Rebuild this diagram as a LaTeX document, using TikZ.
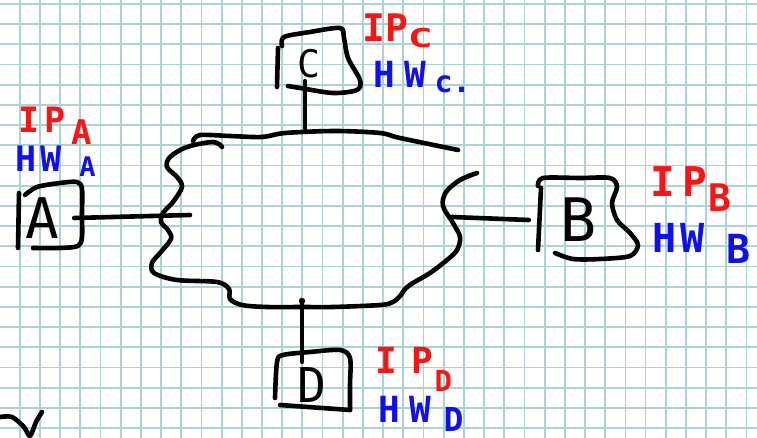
\documentclass[tikz,border=0pt]{standalone}
\usepackage{fontspec}
\usepackage{graphicx}
\usetikzlibrary{calc}
\newfontfamily\labfont{DejaVu Sans Mono}
\newfontfamily\devfont{DejaVu Sans Mono}
\definecolor{gridc}{RGB}{168,212,212}
\definecolor{inkred}{RGB}{250,20,20}
\definecolor{inkblue}{RGB}{15,15,245}
% lowered, resized subscript: {drop}{size}{text}
\newcommand\lsub[3]{\raisebox{-#1pt}{\fontsize{#2}{#2}\selectfont #3}}
\begin{document}
\begin{tikzpicture}[x=1pt,y=-1pt,
  gridline/.style={line width=1.8pt, draw=gridc},
  pen/.style={line width=4.6pt, line cap=round, line join=round, draw=black},
  devletter/.style={inner sep=0pt, font=\devfont\fontsize{#1}{#1}\selectfont},
  iplab/.style={text=inkred, inner sep=0pt, anchor=base west,
    font=\labfont\bfseries\fontsize{#1}{#1}\selectfont},
  hwlab/.style={text=inkblue, inner sep=0pt, anchor=base west,
    font=\labfont\bfseries\fontsize{#1}{#1}\selectfont}]
\useasboundingbox (0,0) rectangle (757,438);
\clip (0,0) rectangle (757,438);
\fill[white] (0,0) rectangle (757,438);

% squared paper
\foreach \k in {0,...,37} \draw[gridline] ({19.7+20.19*\k},0) -- ++(0,438);
\foreach \k in {0,...,21} \draw[gridline] (0,{4+20.19*\k}) -- ++(757,0);

% hosts
\node[devletter=56, minimum width=64pt, minimum height=67pt] (devA) at (42,218) {A};
\node[devletter=60, minimum width=100pt, minimum height=81pt] (devB) at (579,220) {B};
\node[devletter=38, minimum width=83pt, minimum height=66pt] (devC) at (309,64) {C};
\node[devletter=48, minimum width=75pt, minimum height=60pt] (devD) at (312,385) {D};

% host outlines
\draw[pen] (19,193) -- (18,248);
\draw[pen] plot[smooth,tension=0.5] coordinates {(25,195) (37,187) (60,183) (77,182) (82,189) (82,215) (82,237) (78,246) (60,248) (33,248)};
\draw[pen] (541,188) -- (538,250);
\draw[pen] plot[smooth,tension=0.5] coordinates {(538,186) (543,178) (580,178) (610,178) (617,187) (612,203) (617,220) (630,233) (638,245) (630,256) (600,259) (573,259) (555,253)};
\draw[pen] (278,48) -- (277,87);
\draw[pen] plot[smooth,tension=0.5] coordinates {(282,46) (284,37) (310,32) (340,28) (344,38) (348,58) (360,80) (357,90) (333,93) (300,88) (288,86)};
\draw[pen] plot[smooth,tension=0.5] coordinates {(275,398) (277,362) (283,355) (310,352) (340,350) (350,358) (350,385) (350,410)};
\draw[pen] (280,405) -- (350,410);

% the network cloud
\draw[pen] plot[smooth,tension=0.5] coordinates {(193,141) (200,135) (230,136) (262,137) (285,133) (335,131) (380,133) (400,138) (458,150)};
\draw[pen] plot[smooth,tension=0.55] coordinates {(222,147) (213,142) (187,147) (170,157) (167,167) (177,177) (182,187) (173,202) (163,213) (161,222) (168,230) (171,239) (160,253) (152,263) (154,273) (177,280) (217,282) (229,289) (230,299) (242,305) (267,307) (303,307) (333,307) (380,305) (393,302) (401,295) (405,289) (413,283) (430,273) (447,260) (457,250) (460,237) (453,223) (443,206) (446,192) (460,180) (477,173)};

% attachment points on the cloud
\coordinate (jA) at (190,215);
\coordinate (jB) at (452,217);
\coordinate (jC) at (305,128);
\coordinate (jD) at (302,301);

% links
\draw[pen] (devA.east) -- (jA);
\draw[pen] (devB.west) -- (jB);
\draw[pen] (jC) -- ($(devC.south -| jC)+(0,-16)$);
\fill (jD) circle (3.2pt);
\draw[pen] (jD) -- ($(devD.north -| jD)+(0,7)$);

% stray stroke
\draw[pen] plot[smooth,tension=0.5] coordinates {(0,417) (12,417) (24,427) (30,436) (36,422) (42,412)};

% addresses
\node[iplab=35] (ipA) at (18,133) {I\kern5pt P\kern6pt\lsub{12}{34}{A}};
\node[hwlab=35] (hwA) at (15,172) {H\kern4pt W\kern18pt\lsub{5}{27}{A}};
\node[iplab=38] (ipC) at (362,42) {IP\lsub{6}{26}{\scalebox{1.6}[1]{C}}};
\node[hwlab=36] (hwC) at (373,88) {H\kern10pt W\kern8pt\lsub{5}{30}{c.}};
\node[iplab=41] (ipB) at (650,197) {I\kern8pt P\kern1pt\lsub{15}{38}{B}};
\node[hwlab=40] (hwB) at (652,252) {H\kern4pt W\kern22pt\lsub{12}{40}{B}};
\node[iplab=36] (ipD) at (375,373) {I\kern15pt P\kern1pt\lsub{18}{29}{D}};
\node[hwlab=36] (hwD) at (378,422) {H\kern10pt W\kern12pt\lsub{9}{33}{D}};
\end{tikzpicture}
\end{document}
